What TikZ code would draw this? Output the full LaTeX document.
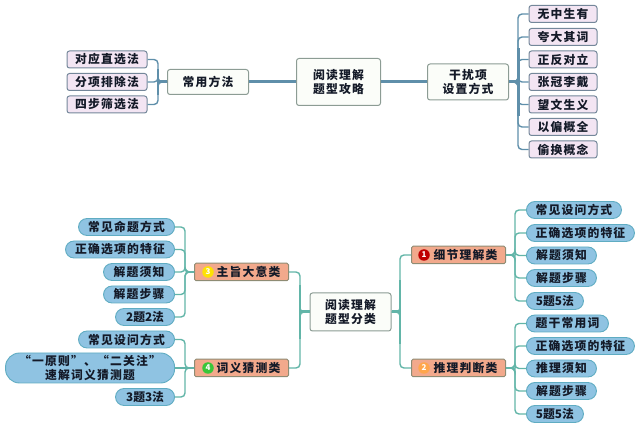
\documentclass[tikz,border=0pt]{standalone}
\usepackage{fontspec}
\setmainfont{Noto Sans CJK SC}[LetterSpace=10]
\usepackage{tikz}

\definecolor{topline}{HTML}{5F8FAA}
\definecolor{botline}{HTML}{62B5A8}
\definecolor{topleaf}{HTML}{F3E5F3}
\definecolor{topedge}{HTML}{74879A}
\definecolor{hubfill}{HTML}{FBFDF9}
\definecolor{hubedge}{HTML}{8C9C94}
\definecolor{pillfill}{HTML}{8FC3E2}
\definecolor{pilledge}{HTML}{5FACC2}
\definecolor{catfill}{HTML}{F2A98C}
\definecolor{catedge}{HTML}{8E8C74}
\definecolor{inktext}{HTML}{141A28}

\newcommand{\tightnum}[1]{{\addfontfeature{LetterSpace=0}#1}}

\tikzset{
  txt/.style={font=\fontsize{11.8}{14}\selectfont\bfseries, text=inktext, align=center, inner sep=0pt},
  hubbox/.style={txt, draw=hubedge, fill=hubfill, line width=1pt, rounded corners=2.5pt},
  topbox/.style={txt, draw=topedge, fill=topleaf, line width=1pt, rounded corners=2.5pt, minimum height=17pt},
  pill/.style={txt, draw=pilledge, fill=pillfill, line width=0.9pt, rounded corners=8.5pt, minimum height=17pt},
  catbox/.style={txt, draw=catedge, fill=catfill, line width=1pt, rounded corners=1.5pt, minimum width=94pt, minimum height=17.5pt},
  numdot/.style={circle, inner sep=0pt, minimum size=11.5pt, text=white, font=\fontsize{8}{8}\selectfont\bfseries},
  topbranch/.style={draw=topline, line width=1.4pt, rounded corners=4pt},
  botbranch/.style={draw=botline, line width=1.4pt, rounded corners=4pt},
}

\begin{document}
\begin{tikzpicture}[x=1pt, y=-1pt]
\useasboundingbox (0,0) rectangle (640,427);

% upper map
\coordinate (fangfatrunk) at (158,82);
\coordinate (ganraotrunk) at (518,82);
\node[hubbox, minimum width=84pt, minimum height=47pt] (gonglue) at (338.5,82) {阅读理解\\题型攻略};
\node[hubbox, minimum width=81pt, minimum height=25pt] (fangfa) at (208,82) {常用方法};
\node[hubbox, minimum width=81pt, minimum height=36pt] (ganrao) at (468,82) {干扰项\\设置方式};

\draw[topline, line width=3pt] (fangfa.east) -- (gonglue.west);
\draw[topline, line width=3pt] (gonglue.east) -- (ganrao.west);

\foreach \s/\y/\t in {1/59.5/对应直选法, 2/82/分项排除法, 3/104.5/四步筛选法}
{
  \node[topbox, minimum width=80pt] (fangfa\s) at (107,\y) {\t};
  \draw[topbranch] (fangfa.west) -- (fangfatrunk) |- (fangfa\s.east);
}
\foreach \s/\y/\t in {1/14/无中生有, 2/37/夸大其词, 3/59.5/正反对立, 4/82/张冠李戴, 5/104.5/望文生义, 6/127/以偏概全, 7/149.5/偷换概念}
{
  \node[topbox, minimum width=68pt] (ganrao\s) at (563,\y) {\t};
  \draw[topbranch] (ganrao.east) -- (ganraotrunk) |- (ganrao\s.west);
}
% thicker middle of the trunks
\draw[topline, line width=3pt] (fangfa.west) -- (fangfatrunk);
\draw[topline, line width=3pt] (ganrao.east) -- (ganraotrunk);
\draw[topline, line width=2.6pt] ([yshift=-13pt]fangfatrunk) -- ([yshift=13pt]fangfatrunk);
\draw[topline, line width=3pt] ([yshift=-34pt]ganraotrunk) -- ([yshift=34pt]ganraotrunk);

% lower map
\coordinate (righttrunk) at (400,312);
\coordinate (lefttrunk) at (300,312);
\coordinate (xijietrunk) at (515,255);
\coordinate (tuilitrunk) at (515,368);
\coordinate (zhuzhitrunk) at (185,272);
\coordinate (ciyitrunk) at (185,368);

\node[hubbox, minimum width=81pt, minimum height=38pt] (fenlei) at (350.5,312) {阅读理解\\题型分类};
\node[catbox] (xijie) at (458.5,255) {\hspace{14pt}细节理解类};
\node[catbox] (tuili) at (458.5,368) {\hspace{14pt}推理判断类};
\node[catbox] (zhuzhi) at (241.5,272) {\hspace{14pt}主旨大意类};
\node[catbox] (ciyi) at (241.5,368) {\hspace{14pt}词义猜测类};
\node[numdot, fill=red!75!black] (num1) at (424,255) {1};
\node[numdot, fill=orange!70!white] (num2) at (424,368) {2};
\node[numdot, fill=yellow!85!orange] (num3) at (208,272) {3};
\node[numdot, fill=green!55!gray] (num4) at (208,368) {4};

\draw[botbranch] (fenlei.east) -- (righttrunk) |- (xijie.west);
\draw[botbranch] (fenlei.east) -- (righttrunk) |- (tuili.west);
\draw[botbranch] (fenlei.west) -- (lefttrunk) |- (zhuzhi.east);
\draw[botbranch] (fenlei.west) -- (lefttrunk) |- (ciyi.east);
\draw[botline, line width=3pt] (fenlei.east) -- (righttrunk);
\draw[botline, line width=3pt] (fenlei.west) -- (lefttrunk);
\draw[botline, line width=2.4pt] ([yshift=-32pt]righttrunk) -- ([yshift=32pt]righttrunk);
\draw[botline, line width=2.4pt] ([yshift=-27pt]lefttrunk) -- ([yshift=27pt]lefttrunk);

\foreach \s/\y/\w/\t in {1/210/95/常见设问方式, 2/233/108/正确选项的特征, 3/255.5/70/解题须知, 4/278/70/解题步骤, 5/301/57/\tightnum{5题5法}}
{
  \node[pill, minimum width=\w pt, anchor=west] (xijie\s) at (526,\y) {\t};
  \draw[botbranch] (xijie.east) -- (xijietrunk) |- (xijie\s.west);
}
\foreach \s/\y/\w/\t in {1/323.5/82/题干常用词, 2/346/108/正确选项的特征, 3/368.5/70/推理须知, 4/391/70/解题步骤, 5/414/57/\tightnum{5题5法}}
{
  \node[pill, minimum width=\w pt, anchor=west] (tuili\s) at (526,\y) {\t};
  \draw[botbranch] (tuili.east) -- (tuilitrunk) |- (tuili\s.west);
}
\foreach \s/\y/\w/\t in {1/227/96/常见命题方式, 2/249.5/109/正确选项的特征, 3/272/71/解题须知, 4/294.5/71/解题步骤, 5/317/59/\tightnum{2题2法}}
{
  \node[pill, minimum width=\w pt, anchor=east] (zhuzhi\s) at (175,\y) {\t};
  \draw[botbranch] (zhuzhi.west) -- (zhuzhitrunk) |- (zhuzhi\s.east);
}
\foreach \s/\y/\w/\t in {1/339.5/96/常见设问方式, 3/397/59/\tightnum{3题3法}}
{
  \node[pill, minimum width=\w pt, anchor=east] (ciyi\s) at (175,\y) {\t};
  \draw[botbranch] (ciyi.west) -- (ciyitrunk) |- (ciyi\s.east);
}
\node[pill, minimum width=169pt, minimum height=30pt, rounded corners=14pt, anchor=east] (ciyi2) at (175,368) {“一原则”、“二关注”\\速解词义猜测题};
\draw[botbranch] (ciyi.west) -- (ciyi2.east);

\end{tikzpicture}
\end{document}
